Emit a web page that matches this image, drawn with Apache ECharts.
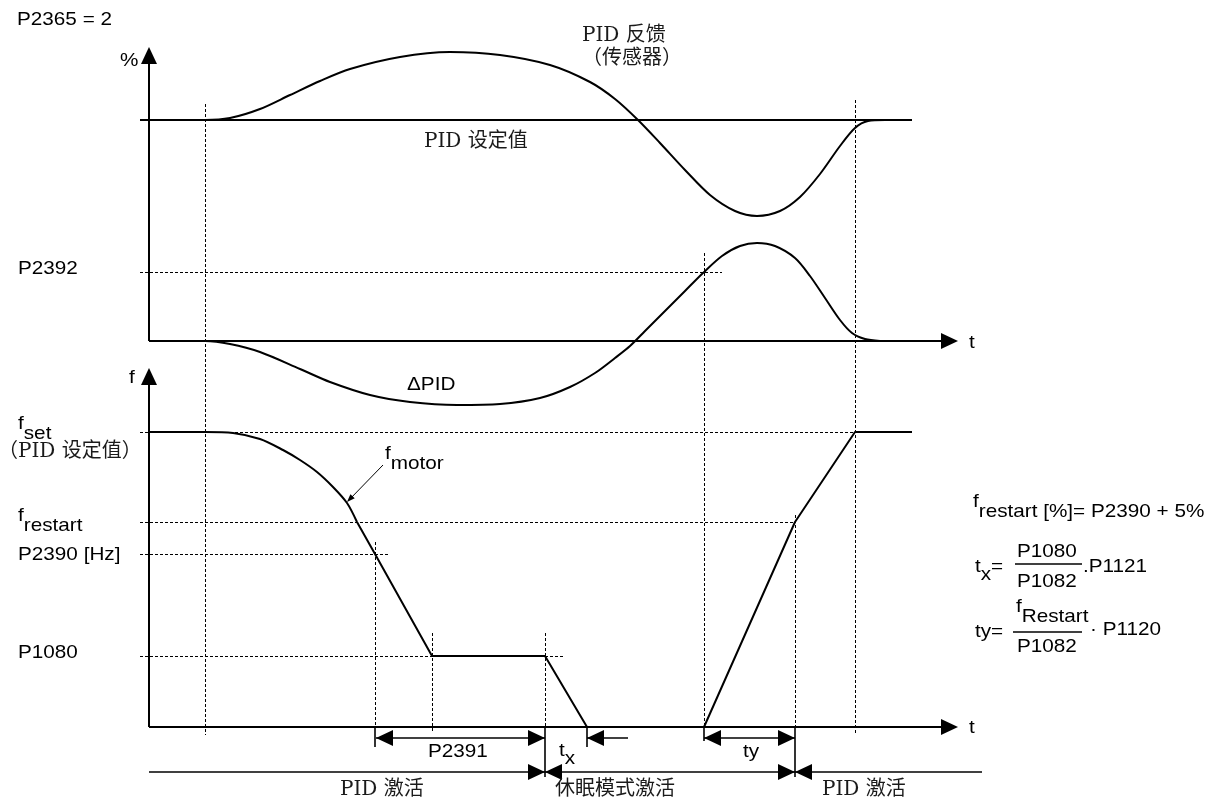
<!DOCTYPE html>
<html>
<head>
<meta charset="utf-8">
<script src="https://cdn.jsdelivr.net/npm/echarts@6/dist/echarts.min.js"></script>
<style>
html,body{margin:0;padding:0;background:#fff;}
#chart{width:1224px;height:801px;}
</style>
</head>
<body>
<div id="chart"></div>
<script>
// ---- diagram data (diagram units, 1 unit = 1 px, y grows downward) ----
const feedbackCurve = [[140,120],[205,120],[230,118],[260,109],[290,95],[320,81],[350,69],[400,57],[450,52],[500,55],[550,65],[590,82],[615,99],[638,120],[660,143],[685,170],[710,195],[735,211],[757,216],[780,211],[800,197],[820,174],[840,146],[855,128],[868,121],[885,120]];
const deltaPidCurve = [[149,341],[205,341],[230,344],[260,352],[300,369],[330,382],[370,395],[410,402],[457,405],[500,404],[540,398],[570,387],[595,373],[615,358],[630,346],[645,331],[665,311],[685,291],[703,273],[722,256],[740,246],[757,243],[775,246],[795,258],[810,276],[825,298],[840,320],[852,333],[865,339],[880,341]];
const fMotorCurve = [[149,432],[205,432],[233,433],[260,439],[283,450],[300,460],[317,472],[333,487],[347,503],[357,522]];
const fMotorRamp = [[357,522],[375,554],[432,656],[545,656],[587,727],[704,727],[795,522],[855,432],[912,432]];
const axisLines = [
  [[149,341],[149,62]], [[149,341],[944,341]],
  [[149,727],[149,382]], [[149,727],[944,727]],
  [[140,120],[912,120]]
];
const markerLines = [
  [[375,727],[375,747]], [[545,727],[545,777]], [[587,727],[587,747]],
  [[704,727],[704,741]], [[795,727],[795,777]],
  [[376,738],[545,738]], [[587,738],[628,738]], [[704,738],[795,738]],
  [[149,772],[982,772]],
  [[1015,564],[1082,564]], [[1013,632],[1082,632]]
];
const leaderLine = [[[383,465],[349,500]]];
const dashedLines = [
  [[205,104],[205,735]], [[855,100],[855,735]], [[704,253],[704,727]],
  [[375,542],[375,727]], [[432,633],[432,733]], [[545,633],[545,727]],
  [[795,515],[795,727]],
  [[140,272],[722,272]], [[140,432],[855,432]], [[140,522],[795,522]],
  [[140,554],[388,554]], [[140,656],[565,656]]
];
// arrow heads: tip x, tip y, direction x, direction y
const arrowHeads = [
  [149,47,0,-1], [149,368,0,-1], [958,341,1,0], [958,727,1,0],
  [376,738,-1,0], [545,738,1,0], [587,738,-1,0],
  [704,738,-1,0], [795,738,1,0],
  [545,772,1,0], [545,772,-1,0], [795,772,1,0], [795,772,-1,0]
];
const smallArrowHeads = [[347,502,-36,37]];
// labels: ^{..} raised part, _{..} lowered part
const labelTexts = [
  'P2365 = 2', '%', 'P2392', 'f', '^{f}set', '（PID 设定值）', '^{f}restart', 'P2390 [Hz]', 'P1080',
  'PID 反馈', '（传感器）', 'PID 设定值', 'ΔPID', '^{f}motor', 't', 't',
  'P2391', 't_{x}', 'ty', 'PID 激活', '休眠模式激活', 'PID 激活',
  '^{f}restart [%]= P2390 + 5%', 't_{x}=', 'P1080', 'P1082', '.P1121',
  'ty=', '^{f}Restart', 'P1082', '· P1120'
];
const labelAnchors = [
  [17,20], [120,61], [18,269], [129,378], [18,434], [-2,452], [18,526], [18,555], [18,653],
  [582,36], [582,59], [424,142], [407,385], [385,464], [969,343], [969,728],
  [428,752], [559,751], [743,752], [340,790], [555,790], [822,790],
  [973,512], [975,567], [1017,552], [1017,582], [1083,567],
  [975,632], [1016,617], [1017,647], [1090,630]
];

// ---- rendering ----
const INK = '#000';
const chart = echarts.init(document.getElementById('chart'), null, {renderer:'canvas'});
const measureCtx = document.createElement('canvas').getContext('2d');
const LATIN_FONT = "'Liberation Sans', Arial, sans-serif";
const CJK_FONT = "'DejaVu Serif', 'Noto Sans CJK SC', serif";

function parseSegments(str){
  const out = [];
  const re = /\^\{([^}]*)\}|_\{([^}]*)\}|([^\^_]+)/g;
  let m;
  while ((m = re.exec(str)) !== null){
    if (m[1] !== undefined) out.push({t:m[1], dy:-10});
    else if (m[2] !== undefined) out.push({t:m[2], dy:8});
    else out.push({t:m[3], dy:0});
  }
  return out;
}

function textRender(params, api){
  const i = api.value(2);
  const p = api.coord([api.value(0), api.value(1)]);
  const text = labelTexts[i];
  const cjk = /[\u3000-\u9fff\uff00-\uffef]/.test(text);
  const size = cjk ? 20 : 19;
  const family = cjk ? CJK_FONT : LATIN_FONT;
  measureCtx.font = size + 'px ' + family;
  let x = 0;
  const children = [];
  parseSegments(text).forEach(function(s){
    children.push({
      type:'text', x:x, y:s.dy,
      style:{text:s.t, fontSize:size, fontFamily:family, fill: cjk ? '#1a1a1a' : INK, align:'left', verticalAlign:'middle'}
    });
    x += measureCtx.measureText(s.t).width;
  });
  return {type:'group', x:p[0], y:p[1], scaleX: cjk ? 1.0 : 1.09, children:children};
}

function arrowRender(L, W){
  return function(params, api){
    const tip = api.coord([api.value(0), api.value(1)]);
    const dx = api.value(2), dy = api.value(3);
    const n = Math.hypot(dx, dy);
    const ux = dx / n, uy = dy / n;
    const bx = tip[0] - ux * L, by = tip[1] - uy * L;
    const px = -uy, py = ux;
    return {type:'polygon', shape:{points:[tip, [bx + px * W, by + py * W], [bx - px * W, by - py * W]]}, style:{fill:INK}};
  };
}

function segSeries(segs, width, type){
  return {
    type:'lines', coordinateSystem:'cartesian2d', polyline:false, silent:true,
    data: segs.map(function(s){ return {coords:s}; }),
    lineStyle:{color:INK, width:width, type:type || 'solid', opacity:1, curveness:0}
  };
}

const option = {
  animation:false,
  backgroundColor:'#fff',
  grid:{left:0, right:0, top:0, bottom:0},
  xAxis:{type:'value', min:0, max:1224, show:false},
  yAxis:{type:'value', min:0, max:801, inverse:true, show:false},
  series:[
    segSeries(dashedLines, 1, [3,2]),
    segSeries(axisLines, 2),
    segSeries(markerLines, 1.6),
    segSeries(leaderLine, 1),
    {type:'line', data:feedbackCurve, smooth:0.3, symbol:'none', lineStyle:{color:INK, width:2}, silent:true},
    {type:'line', data:deltaPidCurve, smooth:0.3, symbol:'none', lineStyle:{color:INK, width:2}, silent:true},
    {type:'line', data:fMotorCurve, smooth:0.3, symbol:'none', lineStyle:{color:INK, width:2}, silent:true},
    {type:'line', data:fMotorRamp, smooth:false, symbol:'none', lineStyle:{color:INK, width:2}, silent:true},
    {type:'custom', renderItem:arrowRender(17, 8), data:arrowHeads, silent:true},
    {type:'custom', renderItem:arrowRender(8, 3), data:smallArrowHeads, silent:true},
    {type:'custom', renderItem:textRender, data:labelAnchors.map(function(a, i){ return [a[0], a[1], i]; }), silent:true}
  ]
};
chart.setOption(option);
</script>
</body>
</html>
